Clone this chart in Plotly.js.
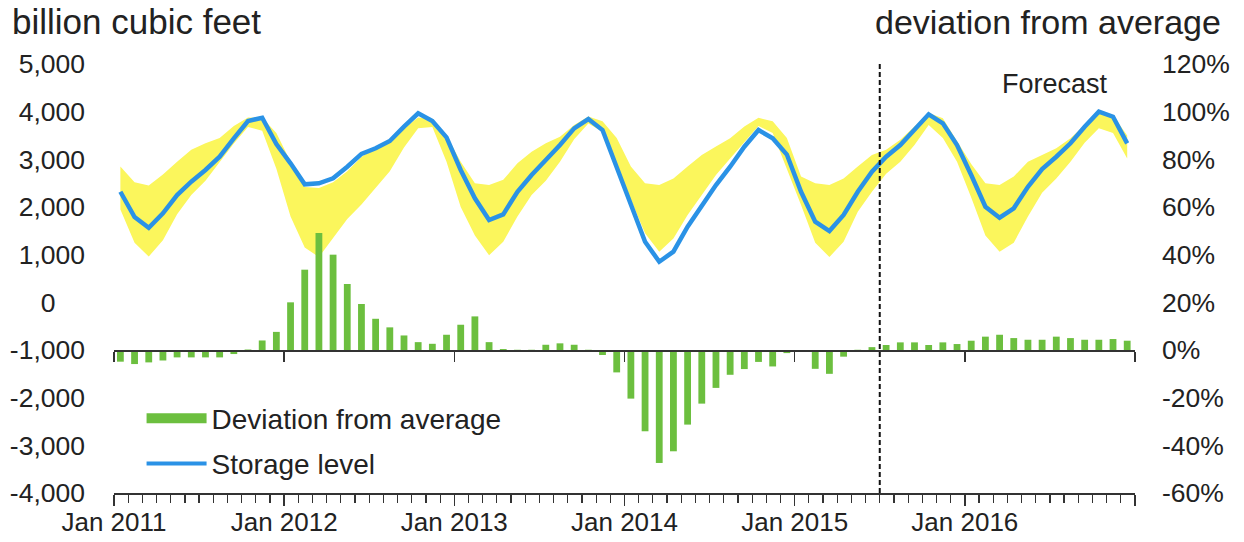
<!DOCTYPE html>
<html>
<head>
<meta charset="utf-8">
<script src="https://cdn.plot.ly/plotly-3.0.1.min.js"></script>
<style>html,body{margin:0;padding:0;background:#fff;}#chart{width:1244px;height:542px;}</style>
</head>
<body>
<div id="chart"></div>
<script>
// Months Jan 2011 .. Dec 2016
var years = [2011, 2012, 2013, 2014, 2015, 2016];
var monthNames = ['Jan','Feb','Mar','Apr','May','Jun','Jul','Aug','Sep','Oct','Nov','Dec'];

// Storage level (billion cubic feet), end of month
var storage = [
  2320, 1790, 1565, 1867, 2251, 2531, 2776, 3055, 3440, 3804, 3873, 3320,
  2916, 2475, 2496, 2601, 2845, 3115, 3231, 3384, 3685, 3965, 3804, 3461,
  2776, 2182, 1727, 1846, 2320, 2671, 2985, 3300, 3650, 3846, 3615, 2820,
  2041, 1272,  852, 1062, 1586, 2041, 2461, 2845, 3265, 3615, 3440, 3100,
  2320, 1691, 1496, 1832, 2320, 2740, 3055, 3300, 3615, 3944, 3755, 3300,
  2671, 2006, 1775, 1972, 2425, 2797, 3055, 3336, 3685, 3999, 3894, 3336
];

// Five-year range, upper and lower bounds (billion cubic feet)
var rangeUpper = [
  2850, 2520, 2450, 2680, 2950, 3200, 3340, 3450, 3700, 3880, 3870, 3550,
  2950, 2420, 2400, 2520, 2750, 3050, 3250, 3400, 3650, 3880, 3850, 3500,
  2950, 2500, 2460, 2570, 2920, 3160, 3340, 3475, 3720, 3900, 3800, 3450,
  2850, 2500, 2460, 2600, 2850, 3090, 3270, 3440, 3690, 3870, 3800, 3450,
  2640, 2500, 2460, 2600, 2850, 3090, 3200, 3410, 3690, 3970, 3860, 3370,
  2900, 2500, 2460, 2640, 2950, 3090, 3230, 3440, 3720, 4030, 3920, 3500
];
var rangeLower = [
  1950, 1250,  960, 1300, 1850, 2250, 2550, 2950, 3330, 3680, 3600, 2800,
  1800, 1150,  950, 1350, 1750, 2050, 2400, 2750, 3250, 3650, 3680, 2950,
  2000, 1400,  990, 1270, 1800, 2250, 2550, 2950, 3420, 3750, 3580, 2780,
  2150, 1450, 1060, 1340, 1830, 2250, 2670, 3020, 3370, 3700, 3550, 2800,
  2040, 1250,  950, 1270, 1900, 2320, 2700, 2950, 3300, 3720, 3450, 2950,
  2200, 1400, 1060, 1250, 1800, 2300, 2600, 2950, 3350, 3650, 3550, 3020
];

// Deviation from five-year average (percent)
var deviation = [
  -4.9, -5.9, -5.2, -4.4, -3.1, -3.1, -3.1, -3.1, -1.7, 0.2, 4.0, 7.6,
  20.0, 33.7, 49.1, 40.0, 27.7, 19.3, 13.1, 9.5, 6.1, 3.3, 2.6, 6.4,
  10.6, 14.1, 3.3, 0.4, 0.1, 0.1, 2.2, 2.8, 2.2, 0.1, -2.1, -9.4,
  -20.4, -34.1, -47.4, -42.5, -31.3, -22.5, -15.9, -10.4, -8.0, -5.0, -6.9, -1.3,
  -0.6, -7.9, -10.0, -2.8, 0.1, 1.2, 2.1, 3.2, 3.2, 2.1, 3.2, 2.5,
  3.9, 5.6, 6.4, 5.0, 4.3, 4.3, 5.6, 5.0, 4.3, 4.3, 4.6, 3.9
];

// Axis ticks
var leftTickVals = [-4000, -3000, -2000, -1000, 0, 1000, 2000, 3000, 4000, 5000];
var leftTickText = ['-4,000', '-3,000', '-2,000', '-1,000', '0\u00a0\u00a0\u00a0\u00a0', '1,000', '2,000', '3,000', '4,000', '5,000'];
var rightTickVals = [-60, -40, -20, 0, 20, 40, 60, 80, 100, 120];
var rightTickText = ['-60%', '-40%', '-20%', '0%', '20%', '40%', '60%', '80%', '100%', '120%'];
var yearTickVals = [0, 12, 24, 36, 48, 60, 72];
var yearTickText = ['Jan 2011', 'Jan 2012', 'Jan 2013', 'Jan 2014', 'Jan 2015', 'Jan 2016', ''];
var forecastStart = 54; // July 2015

// Build month labels and x positions
var monthLabels = [];
years.forEach(function (y) { monthNames.forEach(function (m) { monthLabels.push(m + ' ' + y); }); });
var xs = monthLabels.map(function (_, i) { return i + 0.45; });

var FONT = 'Liberation Sans, Arial, sans-serif';
var GREEN = '#6cbf3f';
var BLUE = '#2a92e6';
var YELLOW = '#fbf65c';
var AX = '#333333';

var traces = [
  { x: xs, y: rangeLower, type: 'scatter', mode: 'lines', line: { width: 0, color: YELLOW },
    showlegend: false, hoverinfo: 'skip', xaxis: 'x', yaxis: 'y' },
  { x: xs, y: rangeUpper, type: 'scatter', mode: 'lines', line: { width: 0, color: YELLOW },
    fill: 'tonexty', fillcolor: YELLOW, showlegend: false, hoverinfo: 'skip', xaxis: 'x', yaxis: 'y' },
  { x: xs, y: storage, type: 'scatter', mode: 'lines', name: 'Storage level',
    line: { color: BLUE, width: 4.5 }, showlegend: false, xaxis: 'x', yaxis: 'y' },
  { x: xs, y: deviation, type: 'bar', name: 'Deviation from average', marker: { color: GREEN },
    width: 0.48, showlegend: false, xaxis: 'x2', yaxis: 'y2' },
  // legend entries
  { x: [null], y: [null], type: 'scatter', mode: 'lines', name: 'Deviation from average',
    line: { color: GREEN, width: 14 }, legendgroup: 'a', xaxis: 'x', yaxis: 'y' },
  { x: [null], y: [null], type: 'scatter', mode: 'lines', name: 'Storage level',
    line: { color: BLUE, width: 4 }, legendgroup: 'b', xaxis: 'x', yaxis: 'y' }
];

var layout = {
  width: 1244, height: 542,
  margin: { l: 114, r: 109, t: 64, b: 49, pad: 0 },
  paper_bgcolor: '#ffffff', plot_bgcolor: 'rgba(0,0,0,0)',
  font: { family: FONT, color: '#222222' },
  showlegend: true,
  legend: { x: 0.027, y: 0.232, xanchor: 'left', yanchor: 'top', bgcolor: 'rgba(0,0,0,0)',
    font: { size: 28, family: FONT, color: '#222' }, itemwidth: 60, tracegroupgap: 6,
    traceorder: 'grouped' },
  xaxis: {
    range: [0, 72], tickmode: 'array', tickvals: yearTickVals, ticktext: yearTickText,
    ticks: 'outside', ticklen: 11, tickwidth: 1.5, tickcolor: AX,
    showline: true, linecolor: AX, linewidth: 1.5, showgrid: false, zeroline: false,
    ticklabelstandoff: -6,
    tickfont: { size: 26, family: FONT, color: '#222' },
    minor: { tickmode: 'linear', tick0: 0, dtick: 1, ticks: 'outside', ticklen: 8, tickwidth: 1.2, tickcolor: AX, showgrid: false },
    fixedrange: true
  },
  xaxis2: {
    overlaying: 'x', anchor: 'free', position: 1 / 3,
    range: [0, 72], tickmode: 'array', tickvals: yearTickVals,
    ticks: 'outside', ticklen: 10, tickwidth: 1.5, tickcolor: AX,
    showticklabels: false, showline: true, linecolor: AX, linewidth: 1.5,
    showgrid: false, zeroline: false, fixedrange: true
  },
  yaxis: {
    range: [-4000, 5000], tickmode: 'array', tickvals: leftTickVals, ticktext: leftTickText,
    showgrid: false, zeroline: false, showline: false, ticks: '',
    ticklabelstandoff: 28, tickfont: { size: 26.5, family: FONT, color: '#222' }, fixedrange: true
  },
  yaxis2: {
    overlaying: 'y', side: 'right', anchor: 'x2',
    range: [-60, 120], tickmode: 'array', tickvals: rightTickVals, ticktext: rightTickText,
    showgrid: false, zeroline: false, showline: false, ticks: '',
    ticklabelstandoff: 26, tickfont: { size: 26.5, family: FONT, color: '#222' }, fixedrange: true
  },
  shapes: [
    { type: 'line', xref: 'x', yref: 'paper', x0: forecastStart, x1: forecastStart, y0: 0, y1: 1.005,
      line: { color: '#111', width: 2, dash: '5px,3px' } }
  ],
  annotations: [
    { text: 'billion cubic feet', xref: 'paper', yref: 'paper', x: -0.102, y: 1.098,
      xanchor: 'left', yanchor: 'middle', showarrow: false, font: { size: 35, family: FONT, color: '#222' } },
    { text: 'deviation from average', xref: 'paper', yref: 'paper', x: 1.0862, y: 1.098,
      xanchor: 'right', yanchor: 'middle', showarrow: false, font: { size: 34, family: FONT, color: '#222' } },
    { text: 'Forecast', xref: 'paper', yref: 'paper', x: 0.9217, y: 0.953,
      xanchor: 'center', yanchor: 'middle', showarrow: false, font: { size: 27, family: FONT, color: '#222' } }
  ]
};

Plotly.newPlot('chart', traces, layout, { displayModeBar: false, staticPlot: true });
</script>
</body>
</html>
